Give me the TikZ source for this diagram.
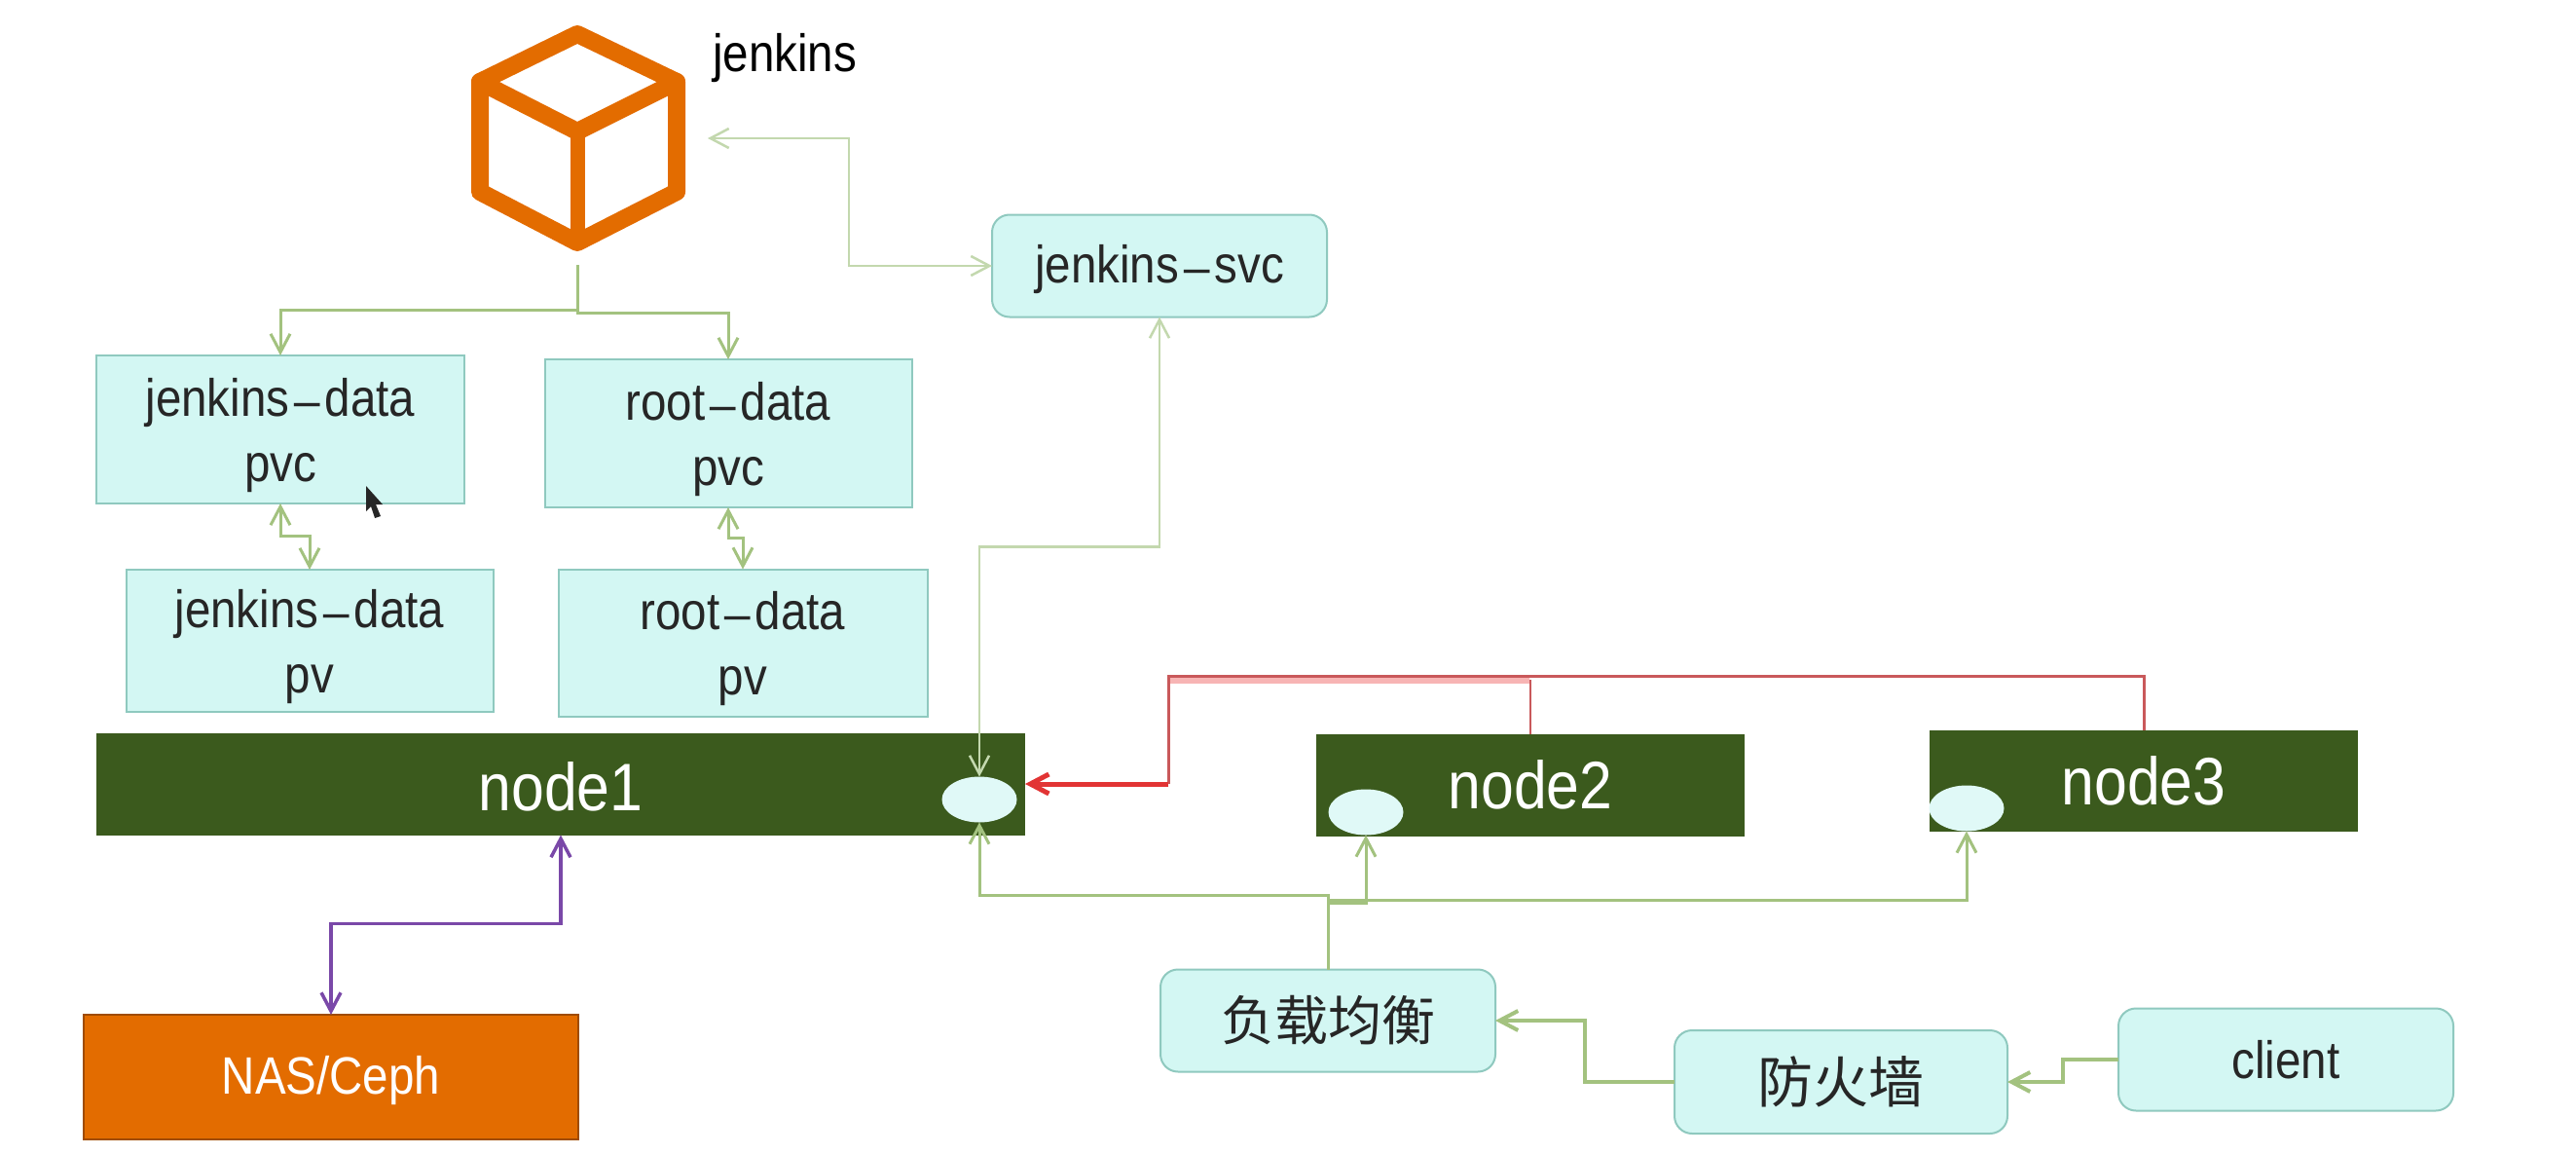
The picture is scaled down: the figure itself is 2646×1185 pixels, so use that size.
\documentclass[tikz,border=0pt]{standalone}
\usepackage{fontspec}
\usepackage{graphicx}
\setmainfont[FakeStretch=0.88]{Liberation Sans}
\newfontfamily\cjk{Noto Sans CJK SC}
\usetikzlibrary{arrows.meta,calc,shapes.geometric}
\newcommand{\ldash}{\scalebox{2.3}[0.8]{-}}
\newcommand{\lift}[1]{\rule{0pt}{#1pt}}
\definecolor{boxfill}{HTML}{D3F7F3}
\definecolor{boxline}{HTML}{8FC9BF}
\definecolor{nodegreen}{HTML}{3B5A1D}
\definecolor{nasorange}{HTML}{E36C00}
\definecolor{linegreen}{HTML}{A3C27F}
\definecolor{palegreen}{HTML}{C3D8AE}
\definecolor{linered}{HTML}{C9595B}
\definecolor{palered}{HTML}{F7B4B4}
\definecolor{strongred}{HTML}{E23434}
\definecolor{linepurple}{HTML}{7A48A8}
\tikzset{
  >={Straight Barb[length=19pt,width=20pt]},
  every node/.style={inner sep=0pt,outer sep=0pt},
  databox/.style={draw=boxline,line width=2pt,fill=boxfill,align=center,text=black!85,font=\fontsize{54}{67}\selectfont},
  roundbox/.style={databox,rounded corners=18pt},
  hostbar/.style={fill=nodegreen,text=white,minimum width=#1,font=\fontsize{69}{76}\selectfont},
  port/.style={ellipse,fill=boxfill!70!white,minimum width=77pt,minimum height=47pt},
  cubeline/.style={draw=nasorange,line join=round,line cap=round},
  green/.style={draw=linegreen,line width=3pt},
  pale/.style={draw=palegreen,line width=2.5pt}
}
\begin{document}
\begin{tikzpicture}[x=1pt,y=-1pt]
\useasboundingbox[fill=white] (0,0) rectangle (2646,1185);
% cube
\node (cube) [minimum width=218pt,minimum height=230pt] at (594,142) {};
\draw[cubeline,line width=18pt] (593,35) -- (695,84) -- (695,197) -- (593,249) -- (493,197) -- (493,84) -- cycle;
\draw[cubeline,line width=18pt] (493,84) -- (593,135) -- (695,84);
\draw[cubeline,line width=15pt] (593,135) -- (593,249);
\node (jlabel) [anchor=base,font=\fontsize{54}{60}\selectfont] at (806,74) {jenkins};
% boxes
\node (jdpvc) [databox,minimum width=378pt,minimum height=152pt] at (288,441) {\lift{52}jenkins\ldash data\\pvc};
\node (rdpvc) [databox,minimum width=377pt,minimum height=152pt] at (748,445) {\lift{52}root\ldash data\\pvc};
\node (jdpv) [databox,minimum width=377pt,minimum height=146pt] at (318,658) {\lift{52}jenkins\ldash data\\pv};
\node (rdpv) [databox,minimum width=379pt,minimum height=151pt] at (763,660) {\lift{52}root\ldash data\\pv};
\node (svc) [roundbox,minimum width=344pt,minimum height=105pt] at (1191,273) {\lift{46}jenkins\ldash svc};
\node (n1) [hostbar=954pt,minimum height=105pt] at (576,805) {\lift{56}node1};
\node (n2) [hostbar=440pt,minimum height=105pt] at (1572,806) {\lift{50}node2};
\node (n3) [hostbar=440pt,minimum height=104pt] at (2202,802) {\lift{50}node3};
\node (e1) [port] at (1006,821) {};
\node (e2) [port] at (1403,834) {};
\node (e3) [port] at (2020,830) {};
\node (nas) [draw=nasorange!70!black,line width=1.5pt,fill=nasorange,text=white,minimum width=508pt,minimum height=128pt,font=\fontsize{54}{60}\selectfont] at (340,1106) {\lift{46}NAS/Ceph};
\node (lb) [roundbox,minimum width=344pt,minimum height=105pt,font=\cjk\fontsize{55}{60}\selectfont] at (1364,1048) {负载均衡};
\node (fw) [roundbox,minimum width=342pt,minimum height=106pt,font=\cjk\fontsize{57}{60}\selectfont] at (1891,1111) {防火墙};
\node (client) [roundbox,minimum width=344pt,minimum height=105pt] at (2348,1088) {client};
% free ends
\coordinate (cubein) at (727,142);
\coordinate (cubeturn) at (872,142);
\coordinate (cubeout) at (593,272);
\coordinate (redleft) at (1200,694);
\coordinate (redlow) at (1200,805);
% connectors
\draw[pale,<->] (cubein) -- (cubeturn) |- (svc.west);
\draw[green,->] (cubeout) -- ++(0,46) -| (jdpvc.north);
\draw[green,->] (cubeout) -- ++(0,49) -| (rdpvc.north);
\draw[green,<->] (jdpvc.south) -- ++(0,33) -| (jdpv.north);
\draw[green,<->] (rdpvc.south) -- ++(0,31) -| (rdpv.north);
\draw[pale,<->] (svc.south) -- ++(0,236) -| (e1.north);
\draw[green,->] (lb.north) -- ++(0,-76) -| (e1.south);
\draw[green,->] (lb.north) -- ++(0,-68) -| (e2.south);
\draw[green,->] (lb.north) -- ++(0,-71) -| (e3.south);
\draw[green,line width=4pt,->] (fw.west) -| ($(fw.west)!.5!(lb.east)$) |- (lb.east);
\draw[green,line width=4pt,->] (client.west) -| ($(client.west)!.5!(fw.east)$) |- (fw.east);
\draw[draw=palered,line width=6pt] ($(redleft)+(0,5)$) -- ($(redleft)+(371,5)$);
\draw[draw=linered,line width=2pt] (n2.north) -- ($(redleft)+(372,4)$);
\draw[draw=linered,line width=3pt] (n3.north) |- (redleft) -- (redlow);
\draw[draw=strongred,line width=5pt,->] (redlow) -- (redlow -| n1.east);
\draw[draw=linepurple,line width=3.5pt,<->] (n1.south) -- ++(0,91) -| (nas.north);
% pointer
\fill[black!85] (376,499) -- (376,525) -- (381,520) -- (385,532) -- (391,530) -- (386,518) -- (393,518) -- cycle;
\end{tikzpicture}
\end{document}
